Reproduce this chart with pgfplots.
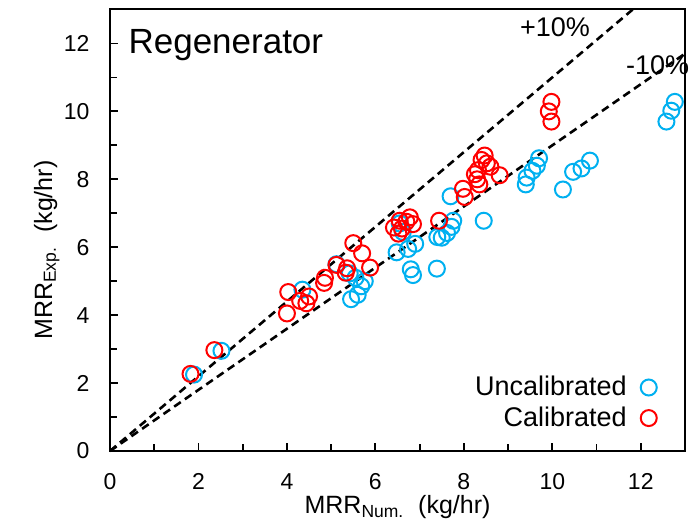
\documentclass[border=0pt]{standalone}
\usepackage{fontspec}
\setmainfont{Liberation Sans}
\usepackage{pgfplots}
\pgfplotsset{compat=1.18}
\definecolor{uncal}{RGB}{0,176,240}
\definecolor{cal}{RGB}{255,0,0}

\begin{document}
\begin{tikzpicture}
\begin{axis}[
  scale only axis, width=287.5pt, height=220.75pt,
  xmin=0, xmax=13, ymin=0, ymax=13,
  xtick={0,2,...,12}, ytick={0,2,...,12},
  minor xtick={1,3,...,13}, minor ytick={1,3,...,11},
  tick pos=left, tick align=inside,
  major tick length=4pt, minor tick length=3.5pt,
  every tick/.style={black, line width=0.9pt},
  axis line style={line width=1pt},
  /pgf/number format/assume math mode=true,
  tick label style={font=\fontsize{11.5}{13}\selectfont},
  xticklabel style={yshift=-7.7pt},
  yticklabel style={xshift=-6.7pt},
  xlabel={MRR\textsubscript{Num.}\ \ (kg/hr)},
  ylabel={MRR\textsubscript{Exp.}\ \ (kg/hr)},
  label style={font=\fontsize{12.5}{14}\selectfont},
  xlabel style={at={(axis description cs:0.5,-0.127)}, anchor=center},
  ylabel style={at={(axis description cs:-0.11,0.455)}, anchor=center},
  legend style={draw=none, fill=none, at={(axis description cs:0.962,0.03)},
    anchor=south east, font=\fontsize{13.5}{15}\selectfont,
    /tikz/every odd column/.append style={column sep=5pt}},
  legend cell align=right, legend plot pos=right,
  clip=false,
]
% uncalibrated model
\addplot[only marks, mark=o, mark size=4pt, color=uncal, line width=1pt]
coordinates {
(1.90,2.25) (2.52,2.95) (4.35,4.75) (5.12,5.50) (5.42,5.23) (5.45,4.47)
(5.60,4.60) (5.68,4.85) (5.76,5.00) (5.55,5.10) (6.48,5.85) (6.55,6.70)
(6.62,6.45) (6.74,5.95) (6.80,5.35) (6.85,5.18) (6.90,6.10) (7.39,5.37)
(7.40,6.30) (7.50,6.28) (7.62,6.42) (7.72,6.60) (7.76,6.78) (7.70,7.50)
(8.45,6.78) (9.40,7.85) (9.42,8.05) (9.55,8.25) (9.65,8.40) (9.70,8.62)
(10.24,7.70) (10.47,8.22) (10.66,8.32) (10.85,8.55) (12.58,9.70)
(12.69,10.02) (12.77,10.28)
};
\addlegendentry{Uncalibrated}
% calibrated model
\addplot[only marks, mark=o, mark size=4pt, color=cal, line width=1pt]
coordinates {
(1.82,2.27) (2.36,2.97) (4.03,4.68) (4.00,4.05) (4.30,4.42) (4.44,4.35)
(4.50,4.55) (4.84,4.95) (4.86,5.10) (5.12,5.48) (5.33,5.25) (5.36,5.38)
(5.50,6.12) (5.70,5.82) (5.88,5.40) (6.42,6.58) (6.52,6.40) (6.55,6.78)
(6.70,6.75) (6.78,6.88) (6.85,6.68) (6.60,6.55) (7.44,6.78) (7.98,7.72)
(8.02,7.48) (8.25,8.15) (8.30,8.00) (8.32,8.27) (8.40,8.57) (8.47,8.70)
(8.52,8.47) (8.60,8.37) (8.81,8.12) (8.35,7.85) (9.98,10.28) (9.92,10.00)
(9.98,9.70)
};
\addlegendentry{Calibrated}
% +/-10 % bounds
\addplot[black, line width=1.3pt, dash pattern=on 4pt off 2.5pt, forget plot]
coordinates {(0,0) (11.818,13)};
\addplot[black, line width=1.3pt, dash pattern=on 4pt off 2.5pt, forget plot]
coordinates {(0,0) (13,11.7)};
\node[font=\fontsize{17.5}{20}\selectfont, anchor=west] at (axis cs:0.26,11.95) {Regenerator};
\node[font=\fontsize{13.5}{15}\selectfont] at (axis cs:10.06,12.48) {+10\%};
\node[font=\fontsize{13.5}{15}\selectfont] at (axis cs:12.38,11.36) {-10\%};
\end{axis}
\pgfresetboundingbox
\path[use as bounding box] ([xshift=-55pt,yshift=-36.5pt]current axis.south west)
  rectangle ([xshift=2.5pt,yshift=4.75pt]current axis.north east);
\end{tikzpicture}
\end{document}
